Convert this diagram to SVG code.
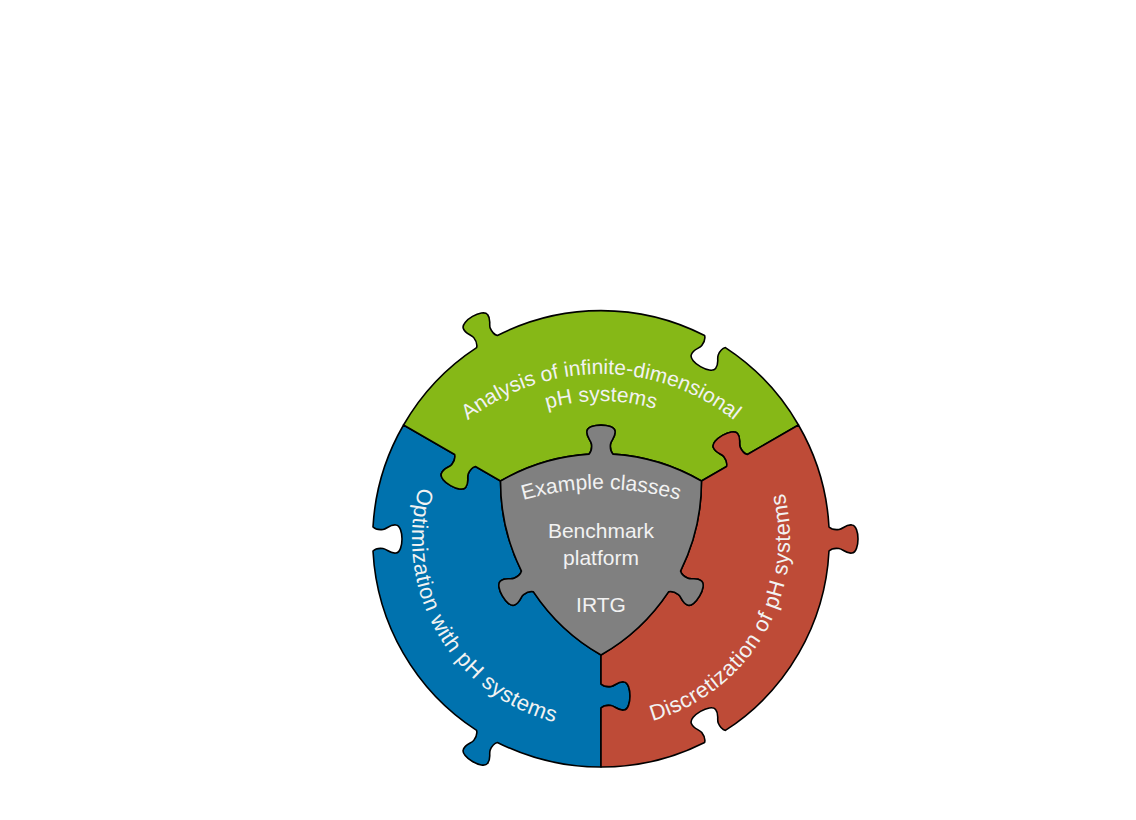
<svg xmlns="http://www.w3.org/2000/svg" xmlns:xlink="http://www.w3.org/1999/xlink" width="1136" height="820" viewBox="0 0 1136 820">
<style>
.piece{stroke:#000;stroke-width:1.6;stroke-linejoin:round}
.lbl{font-family:"Liberation Sans",Arial,sans-serif;fill:#f2f2f2}
.arc{font-size:22px;letter-spacing:0.5px}
.garc{font-size:21px}
.ctr{font-size:21px;text-anchor:middle}
</style>
<defs>
<path id="sector" d="M 0 116 L 0 145 C 3 148 6 148 10 147.5 C 14 147 17 142 23 143 C 31 144 31 170 23 171 C 17 172 14 167 10 166.5 C 6 166 3 166 0 169 L 0 228 A 228 228 0 0 1 -103.61 203.45 C -107.71 204.55 -109.21 207.15 -110.77 210.86 C -112.34 214.58 -109.51 219.68 -113.38 224.37 C -118.24 230.80 -140.76 217.80 -137.62 210.37 C -135.49 204.68 -129.66 204.58 -127.23 201.36 C -124.79 198.15 -123.29 195.55 -124.39 191.45 A 228 228 0 0 1 -228 12 C -225 9 -222 9 -218 9.5 C -214 10 -211 15 -205 14 C -197 13 -197 -13 -205 -14 C -211 -15 -214 -10 -218 -9.5 C -222 -9 -225 -9 -228 -12 A 228 228 0 0 1 -197.45 -114 L -146.35 -84.5 C -145.26 -80.40 -146.76 -77.80 -149.19 -74.59 C -151.62 -71.38 -157.45 -71.28 -159.59 -65.58 C -162.72 -58.15 -140.20 -45.15 -135.34 -51.58 C -131.47 -56.28 -134.30 -61.38 -132.74 -65.09 C -131.17 -68.80 -129.67 -71.40 -125.57 -72.5 L -100.46 -58 A 200.92 200.92 0 0 0 -79.54 32.07 C -80.64 36.17 -83.24 37.67 -86.95 39.23 C -90.66 40.80 -95.76 37.97 -100.46 41.84 C -106.89 46.70 -93.89 69.22 -86.46 66.08 C -80.76 63.95 -80.66 58.12 -77.45 55.69 C -74.24 53.25 -71.64 51.75 -67.54 52.85 A 200.92 200.92 0 0 0 0 116 Z"/>
<path id="tpath" fill="none" d="M -121.49 -144.78 A 189 189 0 0 0 64.64 177.60"/>
<path id="gpath1" fill="none" d="M -201.1 -24.19 A 214 214 0 0 1 201.1 -24.19"/>
<path id="gpath2" fill="none" d="M -175.72 -14.96 A 187 187 0 0 1 175.72 -14.96"/>
<path id="epath" fill="none" d="M -140 -12.49 A 280 280 0 0 1 140 -12.49"/>
</defs>
<rect width="1136" height="820" fill="#fff"/>
<g id="sector-blue" transform="translate(601 539)">
<use href="#sector" xlink:href="#sector" class="piece" fill="#0072AE"/>
<text class="lbl arc"><textPath href="#tpath" xlink:href="#tpath" startOffset="50%" text-anchor="middle">Optimization with pH systems</textPath></text>
</g>
<g id="sector-green" transform="translate(601 539)">
<use href="#sector" xlink:href="#sector" class="piece" fill="#86B817" transform="rotate(120)"/>
<text class="lbl garc"><textPath href="#gpath1" xlink:href="#gpath1" startOffset="50%" text-anchor="middle">Analysis of infinite-dimensional</textPath></text>
<text class="lbl garc"><textPath href="#gpath2" xlink:href="#gpath2" startOffset="50%" text-anchor="middle">pH systems</textPath></text>
</g>
<g id="sector-red" transform="translate(601 539)">
<g transform="rotate(240)">
<use href="#sector" xlink:href="#sector" class="piece" fill="#BE4B37"/>
<text class="lbl arc"><textPath href="#tpath" xlink:href="#tpath" startOffset="50%" text-anchor="middle">Discretization of pH systems</textPath></text>
</g>
</g>
<g id="center" transform="translate(601 539)">
<path class="piece" fill="#808080" d="M -100.459 -58 A 200.92 200.92 0 0 0 -79.54 32.07 C -80.64 36.17 -83.24 37.67 -86.95 39.23 C -90.66 40.80 -95.76 37.97 -100.46 41.84 C -106.89 46.70 -93.89 69.22 -86.46 66.08 C -80.76 63.95 -80.66 58.12 -77.45 55.69 C -74.24 53.25 -71.64 51.75 -67.54 52.85 A 200.92 200.92 0 0 0 0 116 A 200.92 200.92 0 0 0 67.54 52.85 C 71.64 51.75 74.24 53.25 77.45 55.69 C 80.66 58.12 80.76 63.95 86.46 66.08 C 93.89 69.22 106.89 46.70 100.46 41.83 C 95.76 37.97 90.66 40.80 86.95 39.23 C 83.24 37.66 80.64 36.17 79.54 32.07 A 200.92 200.92 0 0 0 100.459 -58 A 200.92 200.92 0 0 0 12 -84.92 C 9 -87.92 9 -90.92 9.5 -94.92 C 10 -98.92 15 -101.92 14 -107.92 C 13 -115.92 -13 -115.92 -14 -107.92 C -15 -101.92 -10 -98.92 -9.5 -94.92 C -9 -90.92 -9 -87.92 -12 -84.92 A 200.92 200.92 0 0 0 -100.459 -58 Z"/>
<text class="lbl ctr"><textPath href="#epath" xlink:href="#epath" startOffset="50%" text-anchor="middle">Example classes</textPath></text>
<text class="lbl ctr" x="0" y="-1">Benchmark</text>
<text class="lbl ctr" x="0" y="26">platform</text>
<text class="lbl ctr" x="0" y="73">IRTG</text>
</g>
</svg>
